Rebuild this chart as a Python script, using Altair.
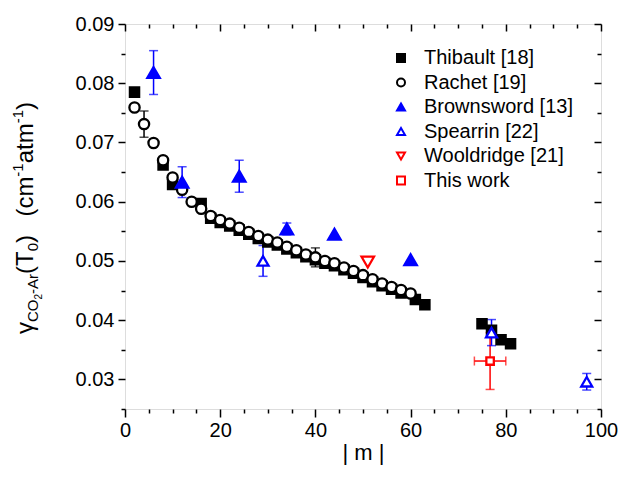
import altair as alt
import pandas as pd

FONT = "Liberation Sans"

series_names = ["Thibault [18]", "Rachet [19]", "Brownsword [13]", "Spearrin [22]", "Wooldridge [21]", "This work"]
shapes = ["square", "circle", "triangle-up", "triangle-up", "triangle-down", "square"]
strokes = ["#000000", "#000000", "#0000ff", "#0000ff", "#ff0000", "#ff0000"]
fills = ["#000000", "#ffffff", "#0000ff", "#ffffff", "#ffffff", "#ffffff"]
sizes = [85, 105, 155, 120, 155, 56]

thibault_m = [2, 8, 10, 16, 18, 20, 22, 24, 26, 28, 30, 32, 34, 36, 38, 40, 42, 44, 46, 48, 50,
              52, 54, 56, 58, 61, 63, 75, 77, 79, 81]
thibault_g = [0.0785, 0.0662, 0.0629, 0.0597, 0.0572, 0.0565, 0.0559, 0.0552, 0.0545, 0.0538, 0.0532,
              0.0527, 0.0520, 0.0514, 0.0507, 0.0502, 0.0496, 0.0492, 0.0485, 0.0479, 0.0472,
              0.0465, 0.0458, 0.0452, 0.0446, 0.0435, 0.0426, 0.0394, 0.0383, 0.0367, 0.0360]

rachet_m = [2, 4, 6, 8, 10, 12, 14, 16, 18, 20, 22, 24, 26, 28, 30, 32, 34, 36, 38, 40,
            42, 44, 46, 48, 50, 52, 54, 56, 58, 60]
rachet_g = [0.0759, 0.0731, 0.0699, 0.0670, 0.0641, 0.0620, 0.0600, 0.0588, 0.0576, 0.0569,
            0.0563, 0.0556, 0.0549, 0.0542, 0.0536, 0.0531, 0.0524, 0.0518, 0.0511, 0.0506,
            0.0500, 0.0496, 0.0489, 0.0483, 0.0476, 0.0469, 0.0462, 0.0456, 0.0451, 0.0445]
rachet_err_m = [4, 40]
rachet_err_g = [0.0731, 0.0506]
rachet_err = [0.0022, 0.0016]

brown_m = [6, 12, 24, 34, 44, 60]
brown_g = [0.0818, 0.0633, 0.0643, 0.0554, 0.0545, 0.0502]
brown_err = [0.0037, 0.0026, 0.0027, 0.0010, 0.0, 0.0]

spear_m = [29, 77, 97]
spear_g = [0.0500, 0.0379, 0.0296]
spear_err = [0.0026, 0.0022, 0.0014]

wool_m = [51]
wool_g = [0.0498]

work_m = [76.7]
work_g = [0.0331]
work_yerr = [0.0048]
work_xerr = [3.3]

x_major = [0, 20, 40, 60, 80, 100]
x_minor = [5, 10, 15, 25, 30, 35, 45, 50, 55, 65, 70, 75, 85, 90, 95]
y_major = [0.03, 0.04, 0.05, 0.06, 0.07, 0.08, 0.09]
y_minor = [0.025, 0.035, 0.045, 0.055, 0.065, 0.075, 0.085]

# ---------- tables ----------
series_data = [(thibault_m, thibault_g), (rachet_m, rachet_g), (brown_m, brown_g),
               (spear_m, spear_g), (wool_m, wool_g), (work_m, work_g)]
series_frames = []
for i, (ms, gs) in enumerate(series_data):
    series_frames.append(pd.DataFrame({"series": [series_names[i]] * len(ms), "m": ms, "g": gs}))

vbars, hcaps = [], []
for col, ms, gs, es in [("#000000", rachet_err_m, rachet_err_g, rachet_err),
                        ("#0000ff", brown_m, brown_g, brown_err),
                        ("#0000ff", spear_m, spear_g, spear_err),
                        ("#ff0000", work_m, work_g, work_yerr)]:
    for m, g, e in zip(ms, gs, es):
        if e > 0:
            vbars.append({"m": m, "lo": g - e, "hi": g + e, "col": col})
            hcaps.append({"m": m, "g": g - e, "col": col})
            hcaps.append({"m": m, "g": g + e, "col": col})
vbars = pd.DataFrame(vbars)
hcaps = pd.DataFrame(hcaps)

hbars, vcaps = [], []
for m, g, e in zip(work_m, work_g, work_xerr):
    hbars.append({"lo": m - e, "hi": m + e, "g": g, "col": "#ff0000"})
    vcaps.append({"m": m - e, "g": g, "col": "#ff0000"})
    vcaps.append({"m": m + e, "g": g, "col": "#ff0000"})
hbars = pd.DataFrame(hbars)
vcaps = pd.DataFrame(vcaps)

xs = alt.Scale(domain=[0, 100], nice=False, zero=False)
ys = alt.Scale(domain=[0.025, 0.09], nice=False, zero=False)

common_axis = dict(grid=False, domain=False, tickColor="#000000", tickWidth=1.5,
                   labelFont=FONT, labelColor="#000000", titleFont=FONT, titleColor="#000000")

def noax(orient, values, size, offset=0):
    return alt.Axis(orient=orient, values=values, tickSize=size, labels=False, title=None,
                    offset=offset, **common_axis)

# ---------- error bars ----------
err_v = alt.Chart(vbars).mark_rule(strokeWidth=1.5).encode(
    x=alt.X("m:Q", scale=xs, axis=None),
    y=alt.Y("lo:Q", scale=ys, axis=None), y2="hi:Q",
    color=alt.Color("col:N", scale=None))
err_hc = alt.Chart(hcaps).mark_tick(orient="horizontal", size=9, thickness=1.5).encode(
    x=alt.X("m:Q", scale=xs, axis=None),
    y=alt.Y("g:Q", scale=ys, axis=None),
    color=alt.Color("col:N", scale=None))
err_h = alt.Chart(hbars).mark_rule(strokeWidth=1.5).encode(
    x=alt.X("lo:Q", scale=xs, axis=None), x2="hi:Q",
    y=alt.Y("g:Q", scale=ys, axis=None),
    color=alt.Color("col:N", scale=None))
err_vc = alt.Chart(vcaps).mark_tick(orient="vertical", size=9, thickness=1.5).encode(
    x=alt.X("m:Q", scale=xs, axis=None),
    y=alt.Y("g:Q", scale=ys, axis=None),
    color=alt.Color("col:N", scale=None))

# ---------- points (one layer per series, shared scales -> one legend) ----------
leg = alt.Legend(title=None, orient="none", legendX=266, legendY=24,
                 symbolSize=64, symbolStrokeWidth=2, labelFont=FONT,
                 labelFontSize=20, labelColor="#000000", labelOffset=13,
                 rowPadding=4.5, padding=0, labelLimit=300)

x_main = alt.Axis(orient="bottom", values=x_major, tickSize=8, labelFontSize=20,
                  labelPadding=3, labelFlush=False, title="| m |", titleFontSize=22,
                  titleFontWeight="normal", titlePadding=2, **common_axis)
y_main = alt.Axis(orient="left", values=y_major, format=".2f", tickSize=7, labelFontSize=20,
                  labelPadding=4, labelFlush=False, labelOverlap=False, title=None, **common_axis)

point_layers = []
for i, df in enumerate(series_frames):
    point_layers.append(
        alt.Chart(df).mark_point(opacity=1, fillOpacity=1, strokeOpacity=1, strokeWidth=2.3,
                                 size=sizes[i]).encode(
            x=alt.X("m:Q", scale=xs, axis=x_main if i == 0 else None),
            y=alt.Y("g:Q", scale=ys, axis=y_main if i == 0 else None),
            shape=alt.Shape("series:N", scale=alt.Scale(domain=series_names, range=shapes), legend=leg),
            stroke=alt.Stroke("series:N", scale=alt.Scale(domain=series_names, range=strokes), legend=leg),
            fill=alt.Fill("series:N", scale=alt.Scale(domain=series_names, range=fills), legend=leg),
        ))

# ---------- extra axes (minor / mirrored ticks) ----------
axdf = pd.DataFrame({"m": [50], "g": [0.05]})

def axis_layer(xa, ya):
    return alt.Chart(axdf).mark_point(opacity=0).encode(
        x=alt.X("m:Q", scale=xs, axis=xa), y=alt.Y("g:Q", scale=ys, axis=ya))

ax_minor = axis_layer(noax("bottom", x_minor, 4), noax("left", y_minor, 4))
ax_top = axis_layer(noax("top", x_major, 7, -7), noax("right", y_major, 7, -7))
ax_top_minor = axis_layer(noax("top", x_minor, 4, -4), noax("right", y_minor, 4, -4))

# ---------- y-axis title with sub/superscripts ----------
W = {"γ": 0.5, "C": 0.722, "O": 0.778, "2": 0.556, "-": 0.333, "A": 0.667, "r": 0.333,
     "(": 0.333, "T": 0.611, "0": 0.556, ")": 0.333, "c": 0.5, "m": 0.833, "1": 0.556,
     "a": 0.556, "t": 0.278, " ": 0.278}
pieces = [("γ", 24, 0), ("CO", 15, 5), ("2", 10, 9), ("-Ar", 15, 5), ("(T", 24, 0), ("0", 15, 5),
          (")", 24, 0), ("   ", 22, None), ("(cm", 24, 0), ("-1", 15, -10), ("atm", 24, 0),
          ("-1", 15, -10), (")", 24, 0)]
one = pd.DataFrame({"a": [0]})
ypos = 334 - 24
base_x = 33 - 125
title_layers = []
for txt, fs, dx in pieces:
    w = sum(W[c] for c in txt) * fs
    if dx is not None:
        title_layers.append(
            alt.Chart(one).mark_text(text=txt, angle=270, fontSize=fs, font=FONT, color="#000000",
                                     align="left", baseline="alphabetic").encode(
                x=alt.value(base_x + dx), y=alt.value(ypos)))
    ypos -= w

chart = alt.layer(err_v, err_hc, err_h, err_vc, *point_layers, ax_minor, ax_top, ax_top_minor,
                  *title_layers).resolve_axis(x="independent", y="independent").properties(
    width=476, height=385,
    autosize=alt.AutoSizeParams(type="none"),
    padding={"left": 125, "top": 24, "right": 20, "bottom": 72},
).configure_view(stroke="#000000", strokeWidth=1.5).configure(background="#ffffff")

chart.save("out.html", embed_options={"renderer": "svg", "actions": False})
